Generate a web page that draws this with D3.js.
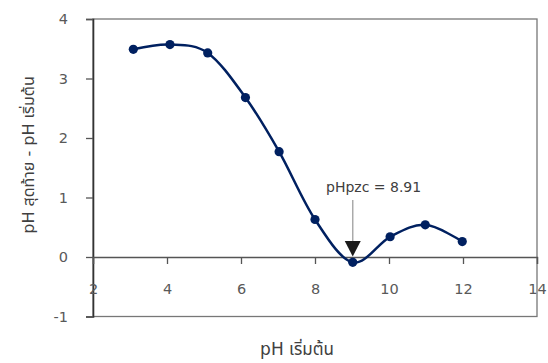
<!DOCTYPE html>
<html>
<head>
<meta charset="utf-8">
<script src="https://cdn.jsdelivr.net/npm/d3@7"></script>
<style>
    body { margin: 0; background: #fff; }
    svg text { font-family: "DejaVu Sans", "Noto Sans Thai", sans-serif; }
</style>
</head>
<body>
<div id="content"></div>
<script>
// pH initial vs (pH final - pH initial)
const phInitial = [3.09, 4.08, 5.10, 6.12, 7.03, 8.00, 9.02, 10.03, 10.98, 11.98];
const phDelta = [3.49, 3.57, 3.43, 2.68, 1.77, 0.63, -0.09, 0.34, 0.54, 0.26];
const xTicks = [2, 4, 6, 8, 10, 12, 14];
const yTicks = [-1, 0, 1, 2, 3, 4];
const pzcLabel = "pHpzc = 8.91";
const pzcX = 9.02;

const width = 548, height = 363;
const plotLeft = 93, plotRight = 537, plotTop = 19, plotBottom = 316.5;

let svg = d3.select("#content").append("svg")
    .attr("width", width)
    .attr("height", height);

let x = d3.scaleLinear().domain([2, 14]).range([plotLeft, plotRight]);
let y = d3.scaleLinear().domain([-1, 4]).range([plotBottom, plotTop]);

// plot frame
svg.append("rect")
    .attr("x", plotLeft).attr("y", plotTop)
    .attr("width", plotRight - plotLeft).attr("height", plotBottom - plotTop)
    .attr("fill", "none")
    .attr("stroke", "#777")
    .attr("stroke-width", 1.3);

// y axis
let yAxis = svg.append("g")
    .attr("transform", `translate(${plotLeft},0)`)
    .call(d3.axisLeft(y).tickValues(yTicks).tickSize(7).tickPadding(18).tickFormat(d => String(d)));
yAxis.select(".domain").attr("stroke", "#333").attr("stroke-width", 1.6);
yAxis.selectAll(".tick line").attr("stroke", "#555").attr("stroke-width", 1.3);
yAxis.selectAll("text").attr("fill", "#595959").style("font-size", "14.5px");

// x axis crossing at y = 0
let xAxis = svg.append("g")
    .attr("transform", `translate(0,${y(0)})`)
    .call(d3.axisBottom(x).tickValues(xTicks).tickSize(7).tickPadding(20).tickFormat(d => String(d)));
xAxis.select(".domain").attr("stroke", "#555").attr("stroke-width", 1.3);
xAxis.selectAll(".tick line").attr("stroke", "#555").attr("stroke-width", 1.3);
xAxis.selectAll("text").attr("fill", "#595959").style("font-size", "14.5px");

// smoothed series
let line = d3.line()
    .x(d => x(d[0]))
    .y(d => y(d[1]))
    .curve(d3.curveCatmullRom.alpha(0));

let points = phInitial.map((v, i) => [v, phDelta[i]]);

svg.append("path")
    .datum(points)
    .attr("d", line)
    .attr("fill", "none")
    .attr("stroke", "#002060")
    .attr("stroke-width", 2.5);

svg.append("g")
    .selectAll("circle")
    .data(points)
    .enter().append("circle")
    .attr("cx", d => x(d[0]))
    .attr("cy", d => y(d[1]))
    .attr("r", 4.6)
    .attr("fill", "#002060");

// pHpzc annotation
let ax = x(pzcX);
svg.append("line")
    .attr("x1", ax).attr("x2", ax)
    .attr("y1", 200).attr("y2", 242)
    .attr("stroke", "#aaa")
    .attr("stroke-width", 1.5);
svg.append("path")
    .attr("d", `M${ax - 8},241 L${ax + 8},241 L${ax},${y(0) - 0.5} Z`)
    .attr("fill", "#1a1a1a");
svg.append("text")
    .attr("x", 326).attr("y", 192)
    .attr("fill", "#404040")
    .style("font-size", "14px")
    .text(pzcLabel);

// axis titles
svg.append("text")
    .attr("x", 297).attr("y", 355)
    .attr("text-anchor", "middle")
    .attr("fill", "#404040")
    .style("font-size", "17px")
    .text("pH เริ่มต้น");

svg.append("text")
    .attr("transform", `translate(34,155) rotate(-90)`)
    .attr("text-anchor", "middle")
    .attr("fill", "#404040")
    .style("font-size", "16px")
    .text("pH สุดท้าย - pH เริ่มต้น");
</script>
</body>
</html>
